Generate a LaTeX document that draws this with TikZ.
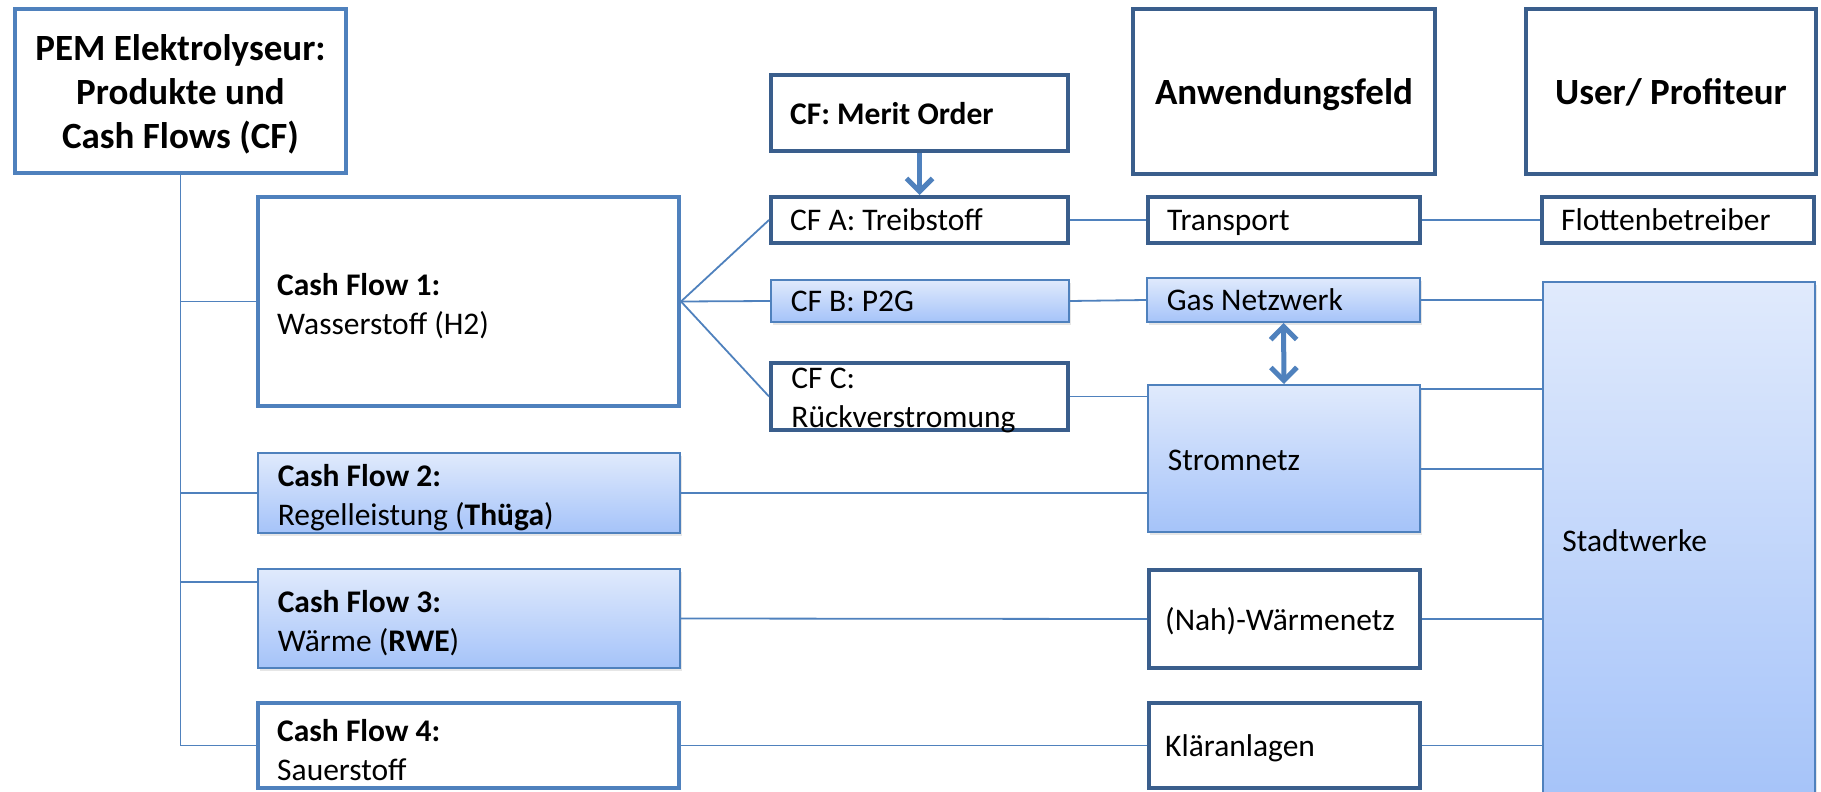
\documentclass[tikz,border=0pt]{standalone}
\usepackage{fontspec}
\setmainfont{Carlito}
\usetikzlibrary{arrows.meta,calc,shadows}
\definecolor{hblau}{RGB}{79,129,189}
\definecolor{dblau}{RGB}{58,94,140}
\definecolor{vtop}{RGB}{224,234,252}
\definecolor{vbot}{RGB}{165,195,249}
\tikzset{
  kasten/.style={draw=dblau,line width=2.2pt,fill=white,inner xsep=9.5pt,inner ysep=2pt,align=flush left},
  hkasten/.style={kasten,draw=hblau},
  verlauf/.style={draw=hblau,line width=0.8pt,top color=vtop,bottom color=vbot,inner xsep=10pt,inner ysep=2pt,
                  align=flush left,drop shadow={shadow xshift=1pt,shadow yshift=-1.5pt,opacity=0.2}},
  einzeilig/.style={text depth=0pt},
  zweizeilig/.style={text height=15.5pt,inner ysep=0pt},
  kopf/.style={font=\fontsize{18.5}{22}\selectfont\bfseries,align=center},
  linie/.style={draw=hblau,line width=0.9pt},
  pfeil/.style={draw=hblau,line width=2.5pt,-{Straight Barb[length=6.5pt,width=13pt]}},
  dpfeil/.style={draw=hblau,line width=2.5pt,{Straight Barb[length=6.5pt,width=13pt]}-{Straight Barb[length=6.5pt,width=13pt]}},
}

\begin{document}
\begin{tikzpicture}[x=0.5pt,y=-0.5pt,font=\fontsize{15.75}{19.5}\selectfont]
  \useasboundingbox (0,0) rectangle (1821,792);
  % Kopfzeile
  \node[hkasten,kopf,align=flush center,inner xsep=4.15pt,text width=157pt,text height=16.5pt,minimum height=81.8pt] (pem) at (180.5,91) {PEM Elektrolyseur:\\Produkte und\\Cash Flows (CF)};
  \node[kasten,kopf,einzeilig,minimum width=150.8pt,minimum height=82.3pt] (anw) at (1284,91.5) {Anwendungsfeld};
  \node[kasten,kopf,einzeilig,minimum width=144.8pt,minimum height=82.3pt] (user) at (1671,91.5) {User/ Profiteur};
  \node[kasten,einzeilig,text width=129.3pt,minimum height=37.8pt] (merit) at (919.5,113) {\textbf{CF: Merit Order}};
  % Cash Flows
  \node[hkasten,zweizeilig,text width=191.3pt,minimum height=104.3pt] (cf1) at (468.5,301.5) {\textbf{Cash Flow 1:}\\Wasserstoff (H2)};
  \node[verlauf,zweizeilig,text width=191.2pt,minimum height=40.2pt] (cf2) at (469,493) {\textbf{Cash Flow 2:}\\Regelleistung (\textbf{Thüga})};
  \node[verlauf,zweizeilig,text width=191.2pt,minimum height=49.7pt] (cf3) at (469,618.5) {\textbf{Cash Flow 3:}\\Wärme (\textbf{RWE})};
  \node[hkasten,zweizeilig,text width=191.3pt,minimum height=42.3pt] (cf4) at (468.5,745.5) {\textbf{Cash Flow 4:}\\Sauerstoff};
  \node[kasten,einzeilig,text width=129.3pt,minimum height=22.8pt] (cfa) at (919.5,220) {CF A: Treibstoff};
  \node[verlauf,einzeilig,text width=129.2pt,minimum height=21.2pt] (cfb) at (920,301) {CF B: P2G};
  \node[kasten,minimum width=148.3pt,minimum height=33.3pt] (cfc) at (919.5,396.5) {};
  \node[anchor=base west,inner sep=0pt] (cfctext) at (791,388) {\begin{tabular}[t]{@{}l@{}}CF C:\\Rückverstromung\end{tabular}};
  % Anwendungsfelder und User
  \node[kasten,einzeilig,text width=116.8pt,minimum height=22.8pt] (transport) at (1284,220) {Transport};
  \node[kasten,einzeilig,text width=116.8pt,minimum height=22.8pt] (flotte) at (1678,220) {Flottenbetreiber};
  \node[verlauf,einzeilig,text width=116.7pt,minimum height=22.2pt] (gas) at (1283.5,300) {Gas Netzwerk};
  \node[verlauf,einzeilig,text width=116.2pt,text height=12pt,minimum height=73.7pt] (strom) at (1284,458.5) {Stromnetz};
  \node[kasten,einzeilig,inner xsep=8pt,text width=119.3pt,minimum height=48.8pt] (waerme) at (1284.5,619) {(Nah)-Wärmenetz};
  \node[kasten,einzeilig,inner xsep=8pt,text width=119.3pt,minimum height=42.3pt] (klaer) at (1284.5,745.5) {Kläranlagen};
  \node[verlauf,minimum width=136.2pt,minimum height=261.2pt] (stadt) at (1679,543) {};
  \node[anchor=west,inner sep=0pt] (stadttext) at (1562,541) {Stadtwerke};
  % Verbindungen
  \draw[linie] (pem.south) |- (cf4.west);
  \draw[linie] (pem.south |- cf1.west) -- (cf1.west);
  \draw[linie] (pem.south |- cf2.west) -- (cf2.west);
  \coordinate (j3) at (pem.south |- 0,582);
  \draw[linie] (j3) -- (j3 -| cf3.west);
  \draw[linie] (cf1.east) -- (cfa.west);
  \draw[linie] (cf1.east) -- (cfb.west);
  \draw[linie] (cf1.east) -- (cfc.west);
  \draw[pfeil] (merit.south) -- (cfa.north);
  \draw[linie] (cfa.east) -- (transport.west);
  \draw[linie] (transport.east) -- (flotte.west);
  \draw[linie] (cfb.east) -- (gas.west);
  \draw[linie] (cfc.east) -- (cfc.east -| strom.west);
  \draw[linie] (cf2.east) -- (cf2.east -| strom.west);
  \draw[linie] (cf3.east) -- (waerme.west);
  \draw[linie] (cf4.east) -- (klaer.west);
  \draw[dpfeil] (gas.south) -- (strom.north);
  \draw[linie] (gas.east) -- (gas.east -| stadt.west);
  \draw[linie] ($(strom.north east)+(0,5)$) coordinate (s1) -- (s1 -| stadt.west);
  \draw[linie] ($(strom.north east)+(0,85)$) coordinate (s2) -- (s2 -| stadt.west);
  \draw[linie] (waerme.east) -- (waerme.east -| stadt.west);
  \draw[linie] (klaer.east) -- (klaer.east -| stadt.west);
\end{tikzpicture}
\end{document}
